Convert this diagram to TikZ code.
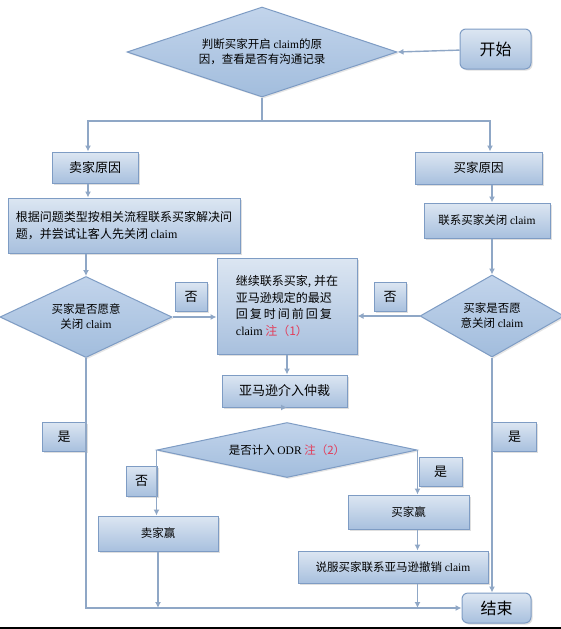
\documentclass[tikz,border=0pt]{standalone}
\usepackage{fontspec}
\setmainfont{Liberation Serif}
\newfontfamily\cjk{Noto Sans CJK SC}
\newfontfamily\latinfont{Liberation Serif}
\usepackage{tikz}
\usetikzlibrary{arrows.meta,shapes.geometric,shadows,calc}
\definecolor{BoxTop}{HTML}{DCE6F2}
\definecolor{BoxBot}{HTML}{A8C0DE}
\definecolor{BoxLine}{HTML}{7E9CC4}
\definecolor{DiaTop}{HTML}{C2D4EB}
\definecolor{DiaBot}{HTML}{A2BDDD}
\definecolor{FlowLine}{HTML}{8FA7C6}
\definecolor{NoteRed}{HTML}{E23D5A}
\newcommand{\clm}{{\latinfont claim}}

\begin{document}
\begin{tikzpicture}[x=1pt,y=-1pt,
  every node/.style={align=center,font=\cjk\fontsize{11.5}{15}\selectfont,inner sep=0pt},
  box/.style={draw=BoxLine,line width=1pt,top color=BoxTop,bottom color=BoxBot,
    drop shadow={shadow xshift=1.5pt,shadow yshift=-1.5pt,opacity=0.25}},
  endbox/.style={box,rounded corners=6pt,font=\cjk\fontsize{16}{18}\selectfont},
  tag/.style={box,minimum height=29pt,font=\cjk\fontsize{13}{15}\selectfont},
  dia/.style={diamond,draw=BoxLine,line width=1pt,top color=DiaTop,bottom color=DiaBot,
    drop shadow={shadow xshift=1.5pt,shadow yshift=-1.5pt,opacity=0.2}},
  arr/.style={draw=FlowLine,line width=1.4pt,-{Latex[length=6pt,width=6pt]}},
  ln/.style={draw=FlowLine,line width=1.4pt}]
\useasboundingbox (0,0) rectangle (561,629);
\fill[white] (0,0) rectangle (561,629);
% top part
\node[dia,aspect=3,minimum width=270pt,minimum height=90pt] (judge) at (262,52) {判断买家开启 \clm 的原\\因，查看是否有沟通记录};
\node[endbox,minimum width=71pt,minimum height=40pt] (start) at (495.5,49) {开始};
\node[box,minimum width=86pt,minimum height=31pt,font=\cjk\fontsize{13}{15}\selectfont] (sellerwhy) at (95,167.5) {卖家原因};
\node[box,minimum width=127pt,minimum height=32pt,font=\cjk\fontsize{12.5}{15}\selectfont] (buyerwhy) at (478.5,168) {买家原因};
\node[box,minimum width=232pt,minimum height=55pt,align=left,font=\cjk\fontsize{12}{17}\selectfont] (sellerfix) at (124,225.5) {根据问题类型按相关流程联系买家解决问\\题，并尝试让客人先关闭 \clm};
\node[box,minimum width=126pt,minimum height=35pt] (buyerask) at (487,220.5) {联系买家关闭 \clm};
% middle part
\node[dia,aspect=2,minimum width=172pt,minimum height=81pt] (closeL) at (86,317) {买家是否愿意\\关闭 \clm};
\node[dia,aspect=2,minimum width=144pt,minimum height=82pt] (closeR) at (492,316) {买家是否愿\\意关闭 \clm};
\node[box,minimum width=140pt,minimum height=96pt,align=left,
  font=\cjk\fontsize{12}{16.5}\selectfont] (follow) at (287,306)
  {继续联系买家, 并在\\亚马逊规定的最迟\\回\,复\,时\,间\,前\,回\,复\\\clm\ \textcolor{NoteRed}{注（1）}};
\node[tag,minimum width=32pt] (noL) at (191,296.5) {否};
\node[tag,minimum width=32pt] (noR) at (390,296.5) {否};
\node[box,minimum width=125pt,minimum height=32pt,font=\cjk\fontsize{13}{15}\selectfont] (amazon) at (284.5,391) {亚马逊介入仲裁};
% bottom part
\node[dia,aspect=4,minimum width=260pt,minimum height=55pt] (odr) at (287,450) {是否计入 {\latinfont ODR} \textcolor{NoteRed}{注（2）}};
\node[tag,minimum width=44pt] (yesL) at (64,436.5) {是};
\node[tag,minimum width=44pt] (yesR) at (514.5,436.5) {是};
\node[tag,minimum width=31pt,minimum height=30pt] (noOdr) at (141.5,481) {否};
\node[tag,minimum width=43pt] (yesOdr) at (440.5,471.5) {是};
\node[box,minimum width=120pt,minimum height=35pt] (sellerwin) at (158,533.5) {卖家赢};
\node[box,minimum width=121pt,minimum height=34pt] (buyerwin) at (408.5,512) {买家赢};
\node[box,minimum width=190pt,minimum height=32pt] (persuade) at (393,567) {说服买家联系亚马逊撤销 \clm};
\node[endbox,minimum width=69pt,minimum height=30pt] (end) at (496.5,608) {结束};
% connectors
\coordinate (split) at (judge.south |- 0,121);
\draw[arr] (start) -- (judge.east);
\draw[ln] (judge.south) -- (split);
\draw[arr] (split) -| ([xshift=-7pt]sellerwhy.north);
\draw[arr] (split) -| ([xshift=11.5pt]buyerwhy.north);
\draw[arr] ([xshift=-7pt]sellerwhy.south) -- ([xshift=-7pt]sellerwhy.south |- sellerfix.north);
\draw[arr] (closeL.north |- sellerfix.south) -- (closeL.north);
\draw[arr] (closeR.north |- buyerwhy.south) -- (closeR.north |- buyerask.north);
\draw[arr] (closeR.north |- buyerask.south) -- (closeR.north);
\draw[arr] (closeL.east) -- (closeL.east -| follow.west);
\draw[arr] (closeR.west) -- (closeR.west -| follow.east);
\draw[arr] (follow.south) -- (follow.south |- amazon.north);
\draw[arr] (amazon.south) -- (amazon.south -| odr.north);
\draw[arr] (odr.west) -- (odr.west |- sellerwin.north);
\draw[arr] (odr.east) -- (odr.east |- buyerwin.north);
\draw[arr] (odr.east |- buyerwin.south) -- (odr.east |- persuade.north);
\draw[arr] (closeL.south) |- (end.west);
\draw[arr] (sellerwin.south) -- (sellerwin.south |- end.west);
\draw[arr] (odr.east |- persuade.south) -- (odr.east |- end.west);
\draw[arr] (closeR.south) -- (closeR.south |- end.north);
\draw[line width=2pt] (0,628) -- (561,628);
\end{tikzpicture}
\end{document}
